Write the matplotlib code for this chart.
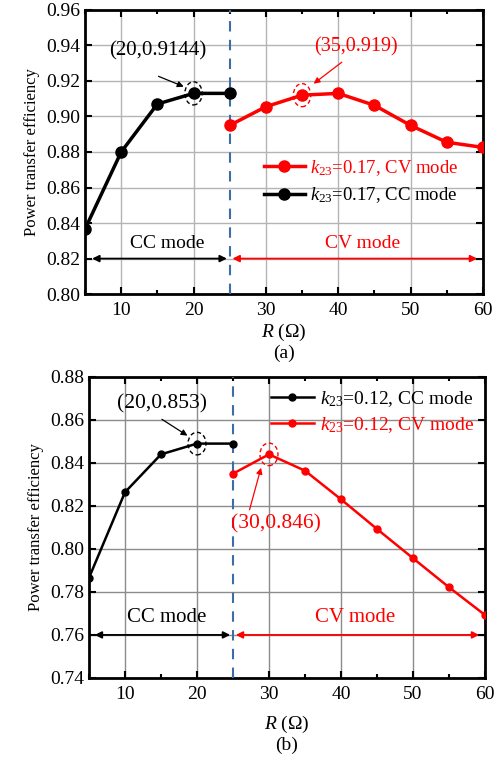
import matplotlib
matplotlib.use("Agg")
import matplotlib.pyplot as plt
from matplotlib.patches import Ellipse
from matplotlib.ticker import MultipleLocator

plt.rcParams['font.family'] = ['Liberation Serif', 'DejaVu Serif']
plt.rcParams['mathtext.fontset'] = 'custom'
plt.rcParams['mathtext.rm'] = 'Liberation Serif'
plt.rcParams['mathtext.it'] = 'Liberation Serif:italic'

# ---- data ----
r_cc = [5, 10, 15, 20, 25]
r_cv = [25, 30, 35, 40, 45, 50, 55, 60]

eff_a_cc = [0.8366, 0.8800, 0.9070, 0.9130, 0.9130]
eff_a_cv = [0.8950, 0.9055, 0.9120, 0.9130, 0.9063, 0.8950, 0.8855, 0.8826]

eff_b_cc = [0.7866, 0.8264, 0.8440, 0.8490, 0.8490]
eff_b_cv = [0.8350, 0.8440, 0.8364, 0.8231, 0.8093, 0.7957, 0.7822, 0.7693]

xticks = [10, 20, 30, 40, 50, 60]
yticks_a = [0.80, 0.82, 0.84, 0.86, 0.88, 0.90, 0.92, 0.94, 0.96]
yticks_b = [0.74, 0.76, 0.78, 0.80, 0.82, 0.84, 0.86, 0.88]

fig = plt.figure(figsize=(5.03, 7.6), dpi=100)
ax1 = fig.add_axes([0.169, 0.613, 0.791, 0.374])
ax2 = fig.add_axes([0.177, 0.108, 0.787, 0.396])

blue = '#3a6ea5'

def style(ax, yticks, gridc, xlabelpad):
    ax.set_xlim(5, 60)
    ax.set_ylim(yticks[0], yticks[-1])
    ax.set_xticks(xticks)
    ax.set_yticks(yticks)
    ax.set_yticklabels([f"{v:.2f}" for v in yticks])
    ax.xaxis.set_minor_locator(MultipleLocator(5))
    ax.tick_params(which='both', direction='in', top=True, right=True,
                   labelsize=14, width=1.5)
    ax.tick_params(which='major', length=5)
    ax.tick_params(which='minor', length=3)
    ax.tick_params(axis='x', pad=6)
    ax.grid(True, which='major', color=gridc, linewidth=1.0)
    ax.set_axisbelow(True)
    for s in ax.spines.values():
        s.set_linewidth(2)
    ax.set_ylabel('Power transfer efficiency', fontsize=12, labelpad=4)
    ax.set_xlabel(r'$\it{R}$ ($\Omega$)', fontsize=14, labelpad=xlabelpad)
    ax.axvline(25, color=blue, linestyle=(0, (5, 4)), linewidth=1.5, zorder=3)

# ---- panel (a) ----
style(ax1, yticks_a, '#b4b4b4', 2)
l1, = ax1.plot(r_cv, eff_a_cv, '-o', color='red', lw=2.5, ms=8,
               label=r'$\it{k}_{23}$=0.17, CV mode', zorder=4)
l2, = ax1.plot(r_cc, eff_a_cc, '-o', color='black', lw=2.5, ms=8,
               label=r'$\it{k}_{23}$=0.17, CC mode', zorder=4)
leg = ax1.legend(handles=[l1, l2], loc='upper left', bbox_to_anchor=(0.43, 0.505),
                 frameon=False, fontsize=13.5, handlelength=2.2, handletextpad=0.3,
                 labelspacing=0.4, borderaxespad=0)
for t, c in zip(leg.get_texts(), ['red', 'black']):
    t.set_color(c)

ax1.add_patch(Ellipse((20, 0.9130), 2.4, 0.013, fill=False, ls=(0, (3, 2)),
                      ec='black', lw=1.0, zorder=5))
ax1.add_patch(Ellipse((35, 0.9120), 2.4, 0.013, fill=False, ls=(0, (3, 2)),
                      ec='red', lw=1.0, zorder=5))
ax1.annotate('', xy=(19.0, 0.9162), xytext=(14.8, 0.9232),
             arrowprops=dict(arrowstyle='-|>', color='black', lw=0.9, mutation_scale=9))
ax1.text(15.0, 0.9372, '(20,0.9144)', fontsize=15, ha='center', va='center')
ax1.annotate('', xy=(36.3, 0.9175), xytext=(40.8, 0.9315),
             arrowprops=dict(arrowstyle='-|>', color='red', lw=0.9, mutation_scale=9))
ax1.text(42.5, 0.9390, '(35,0.919)', fontsize=14.5, ha='center', va='center', color='red')

ax1.annotate('', xy=(25, 0.82), xytext=(5.6, 0.82),
             arrowprops=dict(arrowstyle='<|-|>', color='black', lw=1.3, mutation_scale=10))
ax1.annotate('', xy=(59.6, 0.82), xytext=(25, 0.82),
             arrowprops=dict(arrowstyle='<|-|>', color='red', lw=1.3, mutation_scale=10))
ax1.text(16.3, 0.8283, 'CC mode', fontsize=14, ha='center', va='center')
ax1.text(43.3, 0.8283, 'CV mode', fontsize=14, ha='center', va='center', color='red')
fig.text(0.5 * (0.169 + 0.960), 1 - 353 / 760, '(a)', fontsize=14, ha='center', va='center')

# ---- panel (b) ----
style(ax2, yticks_b, '#8c8c8c', 8)
m1, = ax2.plot(r_cc, eff_b_cc, '-o', color='black', lw=1.8, ms=5,
               label=r'$\it{k}_{23}$=0.12, CC mode', zorder=4)
m2, = ax2.plot(r_cv, eff_b_cv, '-o', color='red', lw=1.8, ms=5,
               label=r'$\it{k}_{23}$=0.12, CV mode', zorder=4)
leg2 = ax2.legend(handles=[m1, m2], loc='upper left', bbox_to_anchor=(0.44, 0.985),
                  frameon=False, fontsize=14, handlelength=2.2, handletextpad=0.3,
                  labelspacing=0.3, borderaxespad=0)
for t, c in zip(leg2.get_texts(), ['black', 'red']):
    t.set_color(c)

ax2.add_patch(Ellipse((20, 0.8490), 2.5, 0.0105, fill=False, ls=(0, (3, 2)),
                      ec='black', lw=1.0, zorder=5))
ax2.add_patch(Ellipse((30, 0.8440), 2.5, 0.0105, fill=False, ls=(0, (3, 2)),
                      ec='red', lw=1.0, zorder=5))
ax2.annotate('', xy=(19.0, 0.8520), xytext=(14.8, 0.8610),
             arrowprops=dict(arrowstyle='-|>', color='black', lw=0.9, mutation_scale=9))
ax2.text(15.2, 0.8675, '(20,0.853)', fontsize=15.5, ha='center', va='center')
ax2.annotate('', xy=(29.0, 0.8390), xytext=(27.2, 0.8170),
             arrowprops=dict(arrowstyle='-|>', color='red', lw=0.9, mutation_scale=9))
ax2.text(31.0, 0.8115, '(30,0.846)', fontsize=15.5, ha='center', va='center', color='red')

ax2.annotate('', xy=(25, 0.76), xytext=(5.4, 0.76),
             arrowprops=dict(arrowstyle='<|-|>', color='black', lw=1.3, mutation_scale=10))
ax2.annotate('', xy=(59.6, 0.76), xytext=(25, 0.76),
             arrowprops=dict(arrowstyle='<|-|>', color='red', lw=1.3, mutation_scale=10))
ax2.text(15.8, 0.7680, 'CC mode', fontsize=15, ha='center', va='center')
ax2.text(42.0, 0.7680, 'CV mode', fontsize=15, ha='center', va='center', color='red')
fig.text(0.5 * (0.177 + 0.964), 1 - 745 / 760, '(b)', fontsize=14, ha='center', va='center')

fig.savefig('out.png', dpi=100)
